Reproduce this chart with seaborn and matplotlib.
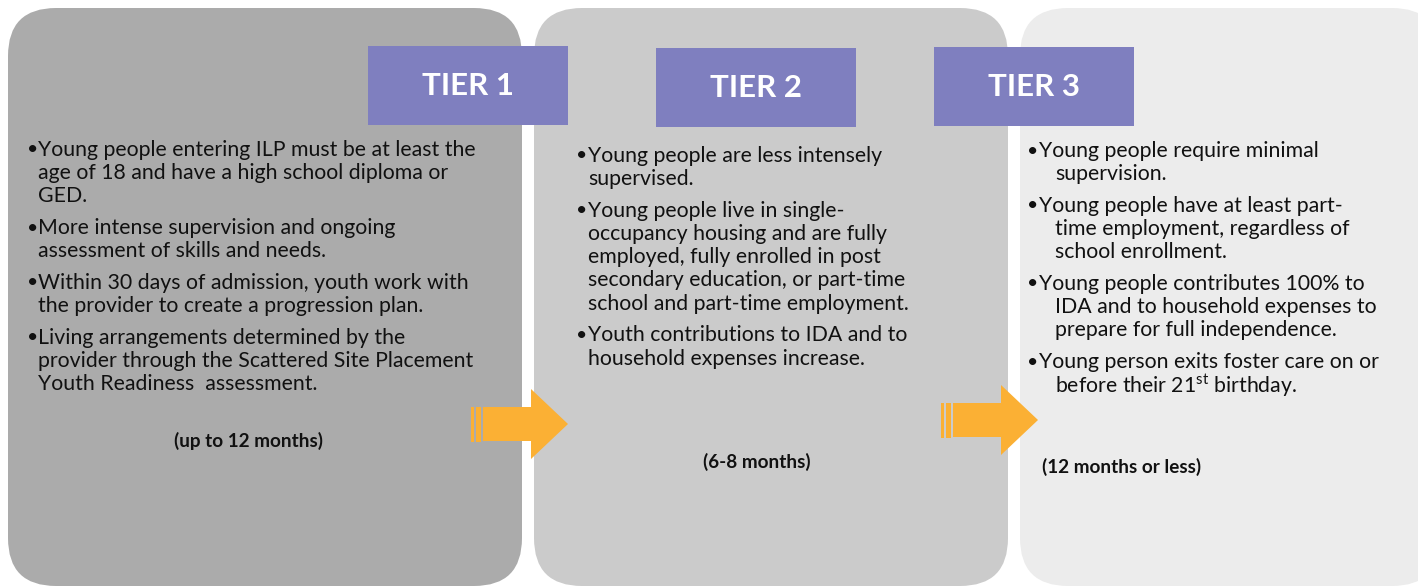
import seaborn as sns
import matplotlib.pyplot as plt
from matplotlib.patches import FancyBboxPatch, Rectangle, Polygon

sns.set_theme(style="white")
plt.rcParams['font.family'] = ['Lato', 'DejaVu Sans']
plt.rcParams['mathtext.fontset'] = 'custom'
plt.rcParams['mathtext.rm'] = 'Lato'

# contenido del diagrama
tiers = ['TIER 1', 'TIER 2', 'TIER 3']
duraciones = ['(up to 12 months)', '(6-8 months)', '(12 months or less)']
bullets_t1 = [
    ['Young people entering ILP must be at least the', 'age of 18 and have a high school diploma or', 'GED.'],
    ['More intense supervision and ongoing', 'assessment of skills and needs.'],
    ['Within 30 days of admission, youth work with', 'the provider to create a progression plan.'],
    ['Living arrangements determined by the', 'provider through the Scattered Site Placement', 'Youth Readiness  assessment.'],
]
bullets_t2 = [
    ['Young people are less intensely', 'supervised.'],
    ['Young people live in single-', 'occupancy housing and are fully', 'employed, fully enrolled in post',
     'secondary education, or part-time', 'school and part-time employment.'],
    ['Youth contributions to IDA and to', 'household expenses increase.'],
]
bullets_t3 = [
    ['Young people require minimal', 'supervision.'],
    ['Young people have at least part-', 'time employment, regardless of', 'school enrollment.'],
    ['Young people contributes 100% to', 'IDA and to household expenses to', 'prepare for full independence.'],
    ['Young person exits foster care on or', r'before their 21$^{\rm st}$ birthday.'],
]
bullets = [bullets_t1, bullets_t2, bullets_t3]

# layout (pixeles): bullet, primera linea, lineas siguientes
panel_x = [(8, 522), (534, 1008), (1020, 1440)]
panel_color = ['#ababab', '#cbcbcb', '#ececec']
tier_box = [(368, 46), (656, 48), (934, 47)]
bullet_x = [(27, 38, 38), (576, 588, 588), (1027, 1039, 1055)]
bullet_y0 = [150, 156, 151]
dur_pos = [(249, 441, 'center'), (757, 462, 'center'), (1042, 467, 'left')]
arrows = [(471, 424), (941, 420)]

fig = plt.figure(figsize=(14.18, 5.87), dpi=100)
ax = fig.add_axes([0, 0, 1, 1])
ax.set_xlim(0, 1418)
ax.set_ylim(587, 0)
ax.axis('off')

for (x0, x1), c in zip(panel_x, panel_color):
    ax.add_patch(FancyBboxPatch((x0, 8), x1 - x0, 578, boxstyle='round,pad=0,rounding_size=48',
                                fc=c, ec='none', zorder=1))

line_h = 23.2
gap = 8.5
for p in range(3):
    bx, tx0, tx1 = bullet_x[p]
    y = bullet_y0[p]
    for item in bullets[p]:
        ax.text(bx, y, '\u2022', fontsize=14, color='#111111', va='center', ha='left', zorder=3)
        for i, ln in enumerate(item):
            ax.text(tx0 if i == 0 else tx1, y, ln, fontsize=15.3, color='#111111',
                    va='center', ha='left', zorder=3)
            y += line_h
        y += gap
    dx, dy, ha = dur_pos[p]
    ax.text(dx, dy, duraciones[p], fontsize=13.6, fontweight='bold', color='#111111',
            va='center', ha=ha, zorder=3)

for (x, y), t in zip(tier_box, tiers):
    ax.add_patch(Rectangle((x, y), 200, 79, fc='#7f7fbf', ec='none', zorder=4))
    ax.text(x + 100, y + 40, t, fontsize=22.5, fontweight='bold', color='white',
            ha='center', va='center', zorder=5)

orange = '#fbb034'
for x, yc in arrows:
    ax.add_patch(Rectangle((x, yc - 17), 3, 35, fc=orange, ec='none', zorder=6))
    ax.add_patch(Rectangle((x + 5, yc - 17), 5, 35, fc=orange, ec='none', zorder=6))
    ax.add_patch(Polygon([(x + 12, yc - 17), (x + 60, yc - 17), (x + 60, yc - 35), (x + 97, yc),
                          (x + 60, yc + 35), (x + 60, yc + 17), (x + 12, yc + 17)],
                         closed=True, fc=orange, ec='none', zorder=6))

fig.savefig('out.png', dpi=100)
